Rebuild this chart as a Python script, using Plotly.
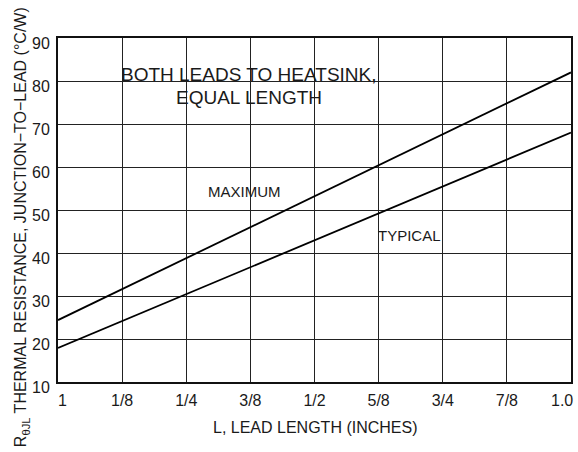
import plotly.graph_objects as go

# Data
lead_length = [0.0, 0.25, 0.5, 0.75, 1.0]
maximum = [24.4, 38.8, 53.2, 67.6, 82.0]
typical = [17.9, 30.4, 42.9, 55.5, 68.0]
x_tick_vals = [0, 0.125, 0.25, 0.375, 0.5, 0.625, 0.75, 0.875, 1.0]
x_tick_text = ["1", "1/8", "1/4", "3/8", "1/2", "5/8", "3/4", "7/8", "1.0"]
y_tick_vals = [10, 20, 30, 40, 50, 60, 70, 80, 90]

SANS = "Liberation Sans, Arial, Helvetica, sans-serif"
INK = "#1a1a1a"

fig = go.Figure()
fig.add_trace(go.Scatter(x=lead_length, y=maximum, mode="lines", name="MAXIMUM",
                         line=dict(color="black", width=1.8), showlegend=False))
fig.add_trace(go.Scatter(x=lead_length, y=typical, mode="lines", name="TYPICAL",
                         line=dict(color="black", width=1.8), showlegend=False))

L, R, T, B = 58, 5, 38, 70
W, H = 578, 452
pw, ph = W - L - R, H - T - B

def px_x(p):
    return (p - L) / pw

def px_y(p):
    return (H - B - p) / ph

# white block behind the heatsink caption (interrupts grid)
fig.add_shape(type="rect", xref="paper", yref="paper",
              x0=px_x(110), x1=px_x(350), y0=px_y(116), y1=px_y(54),
              fillcolor="white", line=dict(width=0), layer="between")

fig.add_annotation(text="BOTH LEADS TO HEATSINK,", xref="paper", yref="paper",
                   x=px_x(250), y=px_y(75), showarrow=False,
                   font=dict(family=SANS, size=19, color=INK),
                   xanchor="center", yanchor="middle")
fig.add_annotation(text="EQUAL LENGTH", xref="paper", yref="paper",
                   x=px_x(250), y=px_y(97), showarrow=False,
                   font=dict(family=SANS, size=19, color=INK),
                   xanchor="center", yanchor="middle")
fig.add_annotation(text="MAXIMUM", xref="paper", yref="paper",
                   x=px_x(245), y=px_y(191), showarrow=False,
                   font=dict(family=SANS, size=15, color=INK),
                   xanchor="center", yanchor="middle")
fig.add_annotation(text="TYPICAL", xref="paper", yref="paper",
                   x=px_x(411), y=px_y(235), showarrow=False,
                   font=dict(family=SANS, size=15, color=INK),
                   xanchor="center", yanchor="middle")

fig.add_annotation(text="L, LEAD LENGTH (INCHES)", xref="paper", yref="paper",
                   x=px_x(316), y=px_y(427), showarrow=False,
                   font=dict(family=SANS, size=16, color=INK),
                   xanchor="center", yanchor="middle")
fig.add_annotation(text="R<sub>θJL</sub> THERMAL RESISTANCE, JUNCTION−TO−LEAD (°C/W)",
                   xref="paper", yref="paper",
                   x=px_x(21), y=px_y(227), showarrow=False, textangle=-90,
                   font=dict(family=SANS, size=16, color=INK),
                   xanchor="center", yanchor="middle")

# end tick labels sit slightly inside the frame in the reference
fig.add_annotation(text=x_tick_text[0], xref="paper", yref="paper",
                   x=px_x(63), y=px_y(400), showarrow=False,
                   font=dict(family=SANS, size=16, color=INK),
                   xanchor="center", yanchor="middle")
fig.add_annotation(text=x_tick_text[-1], xref="paper", yref="paper",
                   x=px_x(564), y=px_y(400), showarrow=False,
                   font=dict(family=SANS, size=16, color=INK),
                   xanchor="center", yanchor="middle")

fig.update_xaxes(range=[0, 1], tickmode="array",
                 tickvals=x_tick_vals[1:-1], ticktext=x_tick_text[1:-1],
                 showgrid=True, gridcolor="#222222", gridwidth=1.3,
                 showline=True, linecolor="#111111", linewidth=2, mirror=True,
                 ticks="", zeroline=False, ticklabelstandoff=3,
                 tickfont=dict(family=SANS, size=16, color=INK))
fig.update_yaxes(range=[10, 90], tickmode="array", tickvals=y_tick_vals,
                 showgrid=True, gridcolor="#222222", gridwidth=1.3,
                 showline=True, linecolor="#111111", linewidth=2, mirror=True,
                 ticks="", zeroline=False, ticklabelstandoff=3, ticklabelshift=5,
                 tickfont=dict(family=SANS, size=16, color=INK))

fig.update_layout(width=W, height=H, margin=dict(l=L, r=R, t=T, b=B),
                  plot_bgcolor="white", paper_bgcolor="white")

fig.write_html("out.html", config={"displayModeBar": False},
               post_script="document.body.style.margin='0';document.body.style.overflow='hidden';")
